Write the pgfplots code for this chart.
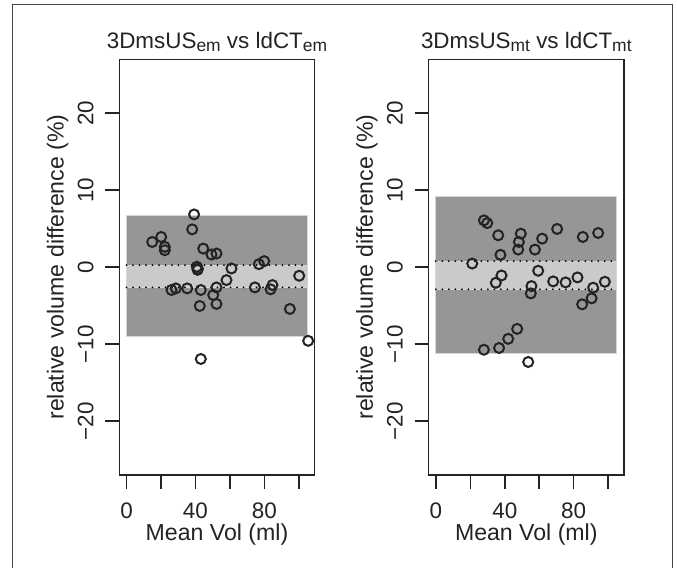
\documentclass[border=0pt]{standalone}
\usepackage{fontspec}
\setmainfont{Liberation Sans}
\usepackage{pgfplots}
\pgfplotsset{compat=1.18}

\definecolor{loa}{RGB}{150,150,153}
\definecolor{cib}{RGB}{202,202,205}
\definecolor{edge}{RGB}{215,215,218}
\definecolor{framec}{RGB}{70,70,70}
\definecolor{ink}{RGB}{35,35,35}

\newcommand\sub[1]{\raisebox{-2.8bp}{\fontsize{17.5}{17.5}\selectfont #1}}

\pgfplotsset{
  bapanel/.style={
    scale only axis, width=195.4bp, height=415.7bp,
    xmin=-4.2, xmax=109.2, ymin=-27, ymax=27,
    axis line style={ink, line width=1.5bp},
    tick align=outside, major tick length=14bp,
    every tick/.style={ink, line width=1.5bp},
    xtick={0,20,40,60,80,100}, xticklabels={0,,40,,80,},
    ytick={-20,-10,0,10,20}, yticklabels={−20,−10,0,10,20},
    xtick pos=bottom, ytick pos=left,
    ticklabel style={font=\fontsize{22.5}{22.5}\selectfont, text=ink},
    xticklabel style={anchor=north, inner sep=0pt},
    yticklabel style={rotate=90, anchor=base, inner sep=0pt},
    xticklabel shift=14bp, yticklabel shift=12bp,
  },
  loarect/.style={draw=edge, line width=0.8bp, fill=loa},
  cirect/.style={draw=edge, line width=0.8bp, fill=cib},
  cidots/.style={black, line width=2bp, line cap=round, dash pattern=on 0bp off 6.5bp},
  pts/.style={only marks, mark=o, mark size=5bp, mark options={line width=2bp, draw=ink}},
}

\begin{document}
\begin{tikzpicture}
\useasboundingbox (0,0) rectangle (677bp,568bp);
\draw[framec, line width=1.5bp] (12.5bp,-1bp) -- (12.5bp,563.7bp) -- (672.5bp,563.7bp) -- (672.5bp,-1bp);

% ---- em: 3DmsUS vs ldCT ----
\begin{axis}[bapanel, at={(119.3bp,93bp)}, anchor=south west]
  \addplot[loarect] coordinates {(0,-9.01) (105,-9.01) (105,6.72) (0,6.72)} -- cycle;
  \addplot[cirect] coordinates {(0,-2.63) (105,-2.63) (105,0.26) (0,0.26)} -- cycle;
  \addplot[cidots] coordinates {(0,0.26) (105,0.26)};
  \addplot[cidots] coordinates {(0,-2.63) (105,-2.63)};
  \addplot[pts] coordinates {
    (39.2,6.85) (38.1,4.91) (14.9,3.27) (20.1,3.92) (22.2,2.63) (22.2,2.20)
    (44.5,2.41) (49.3,1.64) (52.2,1.77) (40.8,0.05) (41.4,-0.20) (41.2,-0.35)
    (60.9,-0.17) (76.8,0.39) (79.9,0.78) (100.2,-1.12) (58.0,-1.68)
    (26.1,-2.97) (28.6,-2.76) (35.2,-2.76) (43.1,-2.97) (52.2,-2.63)
    (50.3,-3.62) (74.5,-2.63) (83.6,-2.88) (84.7,-2.33) (42.5,-5.04)
    (52.2,-4.78) (94.8,-5.43) (105.4,-9.57) (43.1,-11.93)
  };
\end{axis}

% ---- mt: 3DmsUS vs ldCT ----
\begin{axis}[bapanel, at={(428.6bp,93bp)}, anchor=south west]
  \addplot[loarect] coordinates {(0,-11.25) (105,-11.25) (105,9.18) (0,9.18)} -- cycle;
  \addplot[cirect] coordinates {(0,-2.88) (105,-2.88) (105,0.78) (0,0.78)} -- cycle;
  \addplot[cidots] coordinates {(0,0.78) (105,0.78)};
  \addplot[cidots] coordinates {(0,-2.88) (105,-2.88)};
  \addplot[pts] coordinates {
    (27.9,6.08) (29.8,5.73) (36.2,4.14) (49.3,4.35) (48.2,3.27) (47.8,2.28)
    (61.7,3.70) (70.4,4.96) (85.3,3.92) (94.2,4.44) (57.5,2.28) (37.5,1.60)
    (21.1,0.47) (59.4,-0.47) (38.1,-1.08) (34.8,-2.03) (55.5,-2.46)
    (55.1,-3.41) (68.1,-1.85) (75.3,-1.98) (82.2,-1.33) (91.3,-2.67)
    (98.1,-1.90) (90.4,-4.05) (84.9,-4.83) (47.2,-8.02) (42.0,-9.31)
    (36.7,-10.50) (27.9,-10.73) (53.6,-12.32)
  };
\end{axis}

% titles and axis labels
\begin{scope}[text=ink]
\node[anchor=base, font=\fontsize{22.5}{22.5}\selectfont] at (217bp,519.7bp) {3DmsUS\sub{em} vs ldCT\sub{em}};
\node[anchor=base, font=\fontsize{22.5}{22.5}\selectfont] at (526.3bp,519.7bp) {3DmsUS\sub{mt} vs ldCT\sub{mt}};
\node[anchor=base, font=\fontsize{23.2}{23.2}\selectfont] at (217bp,28bp) {Mean Vol (ml)};
\node[anchor=base, font=\fontsize{23.2}{23.2}\selectfont] at (526.3bp,28bp) {Mean Vol (ml)};
\node[anchor=base, rotate=90, font=\fontsize{23.2}{23.2}\selectfont] at (63.5bp,301bp) {relative volume difference (\%)};
\node[anchor=base, rotate=90, font=\fontsize{23.2}{23.2}\selectfont] at (372.8bp,301bp) {relative volume difference (\%)};
\end{scope}
\end{tikzpicture}
\end{document}
